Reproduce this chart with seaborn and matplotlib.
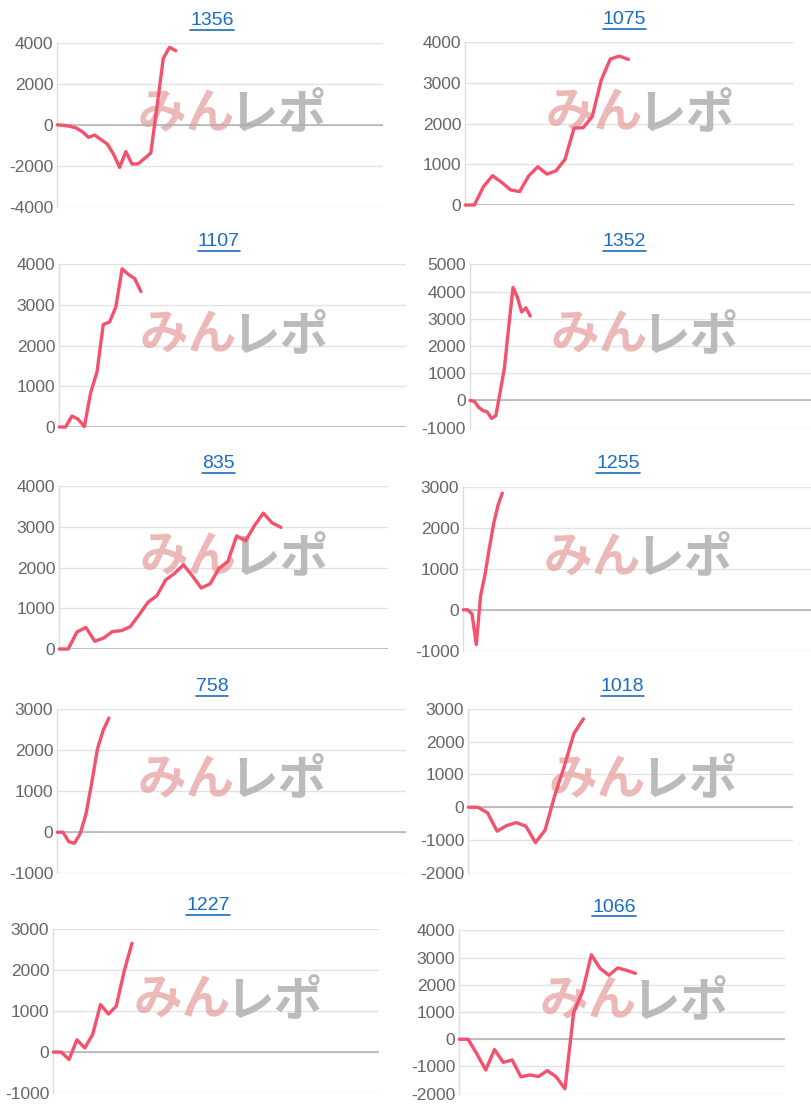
import matplotlib
matplotlib.use("Agg")
import matplotlib.pyplot as plt
from matplotlib.lines import Line2D
import numpy as np
import pandas as pd
import seaborn as sns

# ---------------- data ----------------
titles = ["1356", "1075", "1107", "1352", "835", "1255", "758", "1018", "1227", "1066"]

s1356 = [0, -20, -70, -150, -330, -610, -500, -720, -930, -1420, -2080, -1310,
         -1920, -1900, -1640, -1380, 900, 3250, 3790, 3620]
s1075 = [0, 0, 450, 720, 560, 370, 330, 720, 940, 760, 840, 1120, 1890, 1900,
         2170, 3070, 3590, 3660, 3580]
s1107 = [0, 0, 270, 190, 10, 850, 1350, 2520, 2580, 2950, 3890, 3750, 3650, 3330]
s1352 = [0, -30, -250, -370, -420, -660, -560, 300, 1200, 2700, 4150, 3800,
         3250, 3400, 3100]
s835 = [0, 0, 420, 530, 190, 270, 430, 450, 550, 840, 1150, 1310, 1700, 1860,
        2070, 1800, 1500, 1600, 1980, 2150, 2780, 2660, 3030, 3340, 3100, 2990]
s1255 = [0, 0, -100, -850, 350, 850, 1500, 2100, 2550, 2850]
s758 = [0, 0, -230, -270, -30, 440, 1200, 2030, 2480, 2780]
s1018 = [0, 0, -170, -730, -560, -470, -580, -1080, -700, 350, 1250, 2250, 2700]
s1227 = [0, 0, -180, 300, 100, 430, 1160, 930, 1120, 1970, 2660]
s1066 = [0, 0, -540, -1130, -380, -850, -760, -1380, -1310, -1370, -1150, -1380,
         -1820, 1000, 1750, 3100, 2600, 2350, 2620, 2530, 2420]

series = [s1356, s1075, s1107, s1352, s835, s1255, s758, s1018, s1227, s1066]

# y axis ranges (min, max, step)
y_ranges = [(-4000, 4000, 2000), (0, 4000, 1000), (0, 4000, 1000), (-1000, 5000, 1000),
            (0, 4000, 1000), (-1000, 3000, 1000), (-1000, 3000, 1000), (-2000, 3000, 1000),
            (-1000, 3000, 1000), (-2000, 4000, 1000)]
# x axis extents (in data points)
x_spans = [52.2, 36.3, 55.2, 79.5, 37.1, 80.5, 60.8, 33.8, 41.4, 37.0]

# ---------------- layout (pixels) ----------------
W, H = 812, 1110
# left, right, top, bottom of plot area
boxes = [(57.3, 382.7, 43.0, 206.7), (465.3, 794.3, 42.3, 205.0),
         (59.3, 406.0, 264.3, 427.0), (470.0, 812.0, 264.3, 427.7),
         (59.3, 388.3, 486.3, 649.0), (463.3, 812.0, 487.0, 650.7),
         (57.3, 406.0, 709.0, 873.3), (468.3, 792.7, 709.0, 872.7),
         (53.3, 379.0, 929.3, 1093.0), (459.3, 785.0, 930.3, 1093.7)]
title_pos = [(212, 20.5), (624.7, 20), (218.7, 242), (624.7, 242), (218.7, 464),
             (618, 464), (212, 686.5), (622.7, 686.5), (208, 906), (614, 907)]

LINE = "#f4516c"
BLUE = "#1a6dc0"

sns.set_theme(style="white")
plt.rcParams["font.family"] = ["Liberation Sans", "DejaVu Sans"]
plt.rcParams["axes.unicode_minus"] = False

fig = plt.figure(figsize=(W / 100, H / 100), dpi=100)
fig.patch.set_facecolor("white")


def rect(l, r, t, b):
    return [l / W, 1 - b / H, (r - l) / W, (b - t) / H]


title_texts = []
for i, vals in enumerate(series):
    l, r, t, b = boxes[i]
    ax = fig.add_axes(rect(l, r, t, b))
    ax.set_facecolor("none")
    lo, hi, step = y_ranges[i]
    df = pd.DataFrame({"x": np.arange(len(vals)), "y": vals})
    sns.lineplot(data=df, x="x", y="y", ax=ax, color=LINE, linewidth=2.4,
                 zorder=5, clip_on=False)
    ax.set_xlim(0, x_spans[i])
    ax.set_ylim(lo, hi)
    ax.set_yticks(list(range(lo, hi + 1, step)))
    ax.set_xticks([])
    ax.set_xlabel("")
    ax.set_ylabel("")
    ax.yaxis.grid(True, color="#e3e3e3", linewidth=1)
    ax.xaxis.grid(False)
    ax.set_axisbelow(True)
    if lo <= 0 <= hi:
        ax.axhline(0, color="#b0b0b0", linewidth=1.1, zorder=2)
    for side in ["top", "right", "bottom"]:
        ax.spines[side].set_visible(False)
    ax.spines["left"].set_color("#dddddd")
    ax.spines["left"].set_linewidth(1)
    ax.tick_params(axis="y", length=0, pad=3, labelsize=12.5, labelcolor="#666666")

    # watermark (behind the line)
    cx, cy = l + 176, t + 71
    ax.text((cx + 2) / W, 1 - cy / H, "みん", transform=fig.transFigure,
            ha="right", va="center", fontsize=35, fontweight="bold",
            family=["Noto Sans CJK JP"], color="#e6a0a0", alpha=0.75,
            zorder=1, clip_on=False)
    ax.text((cx - 4) / W, 1 - cy / H, "レポ", transform=fig.transFigure,
            ha="left", va="center", fontsize=35, fontweight="bold",
            family=["Noto Sans CJK JP"], color="#b0b0b0", alpha=0.85,
            zorder=1, clip_on=False)

    tx, ty = title_pos[i]
    tt = fig.text(tx / W, 1 - ty / H, titles[i], ha="center", va="center",
                  color=BLUE, fontsize=14, family=["Liberation Sans"])
    title_texts.append(tt)

# underline the titles (link style)
fig.canvas.draw()
renderer = fig.canvas.get_renderer()
for tt in title_texts:
    bb = tt.get_window_extent(renderer=renderer)
    y = bb.y0 - 0.5
    fig.add_artist(Line2D([bb.x0 / W, bb.x1 / W], [y / H, y / H],
                          transform=fig.transFigure, color=BLUE, linewidth=1.2))

fig.savefig("out.png", dpi=100, facecolor="white")
